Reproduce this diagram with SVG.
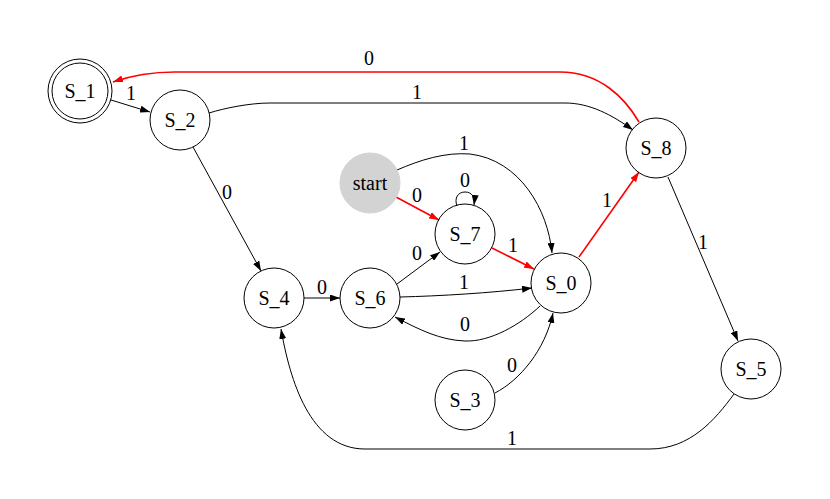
<svg xmlns="http://www.w3.org/2000/svg" width="830" height="499" viewBox="0 0 830 499">
<style>
  .node circle { fill: none; stroke: #000; stroke-width: 1; }
  .node text, .lbl { font-family: "Liberation Serif", "Times New Roman", serif; font-size: 20px; text-anchor: middle; fill: #000; }
  .e { fill: none; stroke: #000; stroke-width: 1; marker-end: url(#ah); }
  .r { fill: none; stroke: #ff0000; stroke-width: 1.6; marker-end: url(#ahr); }
</style>
<defs>
  <marker id="ah" markerUnits="userSpaceOnUse" markerWidth="10" markerHeight="7" refX="10" refY="3.5" orient="auto">
    <path d="M0,0 L10,3.5 L0,7 z" fill="#000"/>
  </marker>
  <marker id="ahr" markerUnits="userSpaceOnUse" markerWidth="10" markerHeight="7" refX="10" refY="3.5" orient="auto">
    <path d="M0,0 L10,3.5 L0,7 z" fill="#ff0000"/>
  </marker>
</defs>
<rect width="830" height="499" fill="#fff"/>
<g id="edges">
  <path class="e" d="M111,100 L150,112"/>
  <path class="r" d="M639,122 C625,98 600,72 560,72 L175,72 C150,72 130,76 113,82"/>
  <path class="e" d="M209,113 C225,108 250,103 270,103 L565,103 C590,103 612,115 633,130"/>
  <path class="e" d="M193,147 L261,271"/>
  <path class="e" d="M304,298 L340,298"/>
  <path class="e" d="M397,284 L440,252"/>
  <path class="e" d="M400,297 C440,296 490,293 532,288"/>
  <path class="e" d="M540,306 C520,325 490,342 465,341 C440,340 420,330 395,317"/>
  <path class="r" d="M396,197 L439,220"/>
  <path class="e" d="M397,170 C420,160 445,152 470,154 C520,160 548,210 552,253"/>
  <path class="e" d="M457,206 C454,198 458,192 465,192 C472,192 475,197 474,205"/>
  <path class="r" d="M492,248 L534,269"/>
  <path class="r" d="M579,257 L639,172"/>
  <path class="e" d="M668,177 L738,341"/>
  <path class="e" d="M495,393 C520,380 545,350 553,313"/>
  <path class="e" d="M734,394 C715,420 690,449 650,449 L365,449 C310,449 290,380 281,329"/>
  <text class="lbl" x="131" y="100">1</text>
  <text class="lbl" x="369" y="65">0</text>
  <text class="lbl" x="417" y="99">1</text>
  <text class="lbl" x="227" y="199">0</text>
  <text class="lbl" x="322" y="294">0</text>
  <text class="lbl" x="417" y="260">0</text>
  <text class="lbl" x="464" y="289">1</text>
  <text class="lbl" x="465" y="331">0</text>
  <text class="lbl" x="417" y="202">0</text>
  <text class="lbl" x="464" y="150">1</text>
  <text class="lbl" x="465" y="187">0</text>
  <text class="lbl" x="513" y="252">1</text>
  <text class="lbl" x="607" y="207">1</text>
  <text class="lbl" x="703" y="249">1</text>
  <text class="lbl" x="512" y="372">0</text>
  <text class="lbl" x="512" y="445">1</text>
</g>
<g id="S_1" class="node"><circle cx="80" cy="91" r="32"/><circle cx="80" cy="91" r="28"/><text x="80" y="98">S_1</text></g>
<g id="S_2" class="node"><circle cx="180" cy="120" r="30"/><text x="180" y="127">S_2</text></g>
<g id="start" class="node"><circle cx="370" cy="183" r="30" style="fill:#d3d3d3;stroke:#d3d3d3"/><text x="370" y="190">start</text></g>
<g id="S_7" class="node"><circle cx="465" cy="234" r="30"/><text x="465" y="241">S_7</text></g>
<g id="S_0" class="node"><circle cx="561" cy="283" r="30"/><text x="561" y="290">S_0</text></g>
<g id="S_4" class="node"><circle cx="274" cy="298" r="30"/><text x="274" y="305">S_4</text></g>
<g id="S_6" class="node"><circle cx="370" cy="298" r="30"/><text x="370" y="305">S_6</text></g>
<g id="S_3" class="node"><circle cx="465" cy="400" r="30"/><text x="465" y="407">S_3</text></g>
<g id="S_8" class="node"><circle cx="656" cy="148" r="30"/><text x="656" y="155">S_8</text></g>
<g id="S_5" class="node"><circle cx="751" cy="369" r="30"/><text x="751" y="376">S_5</text></g>
</svg>
